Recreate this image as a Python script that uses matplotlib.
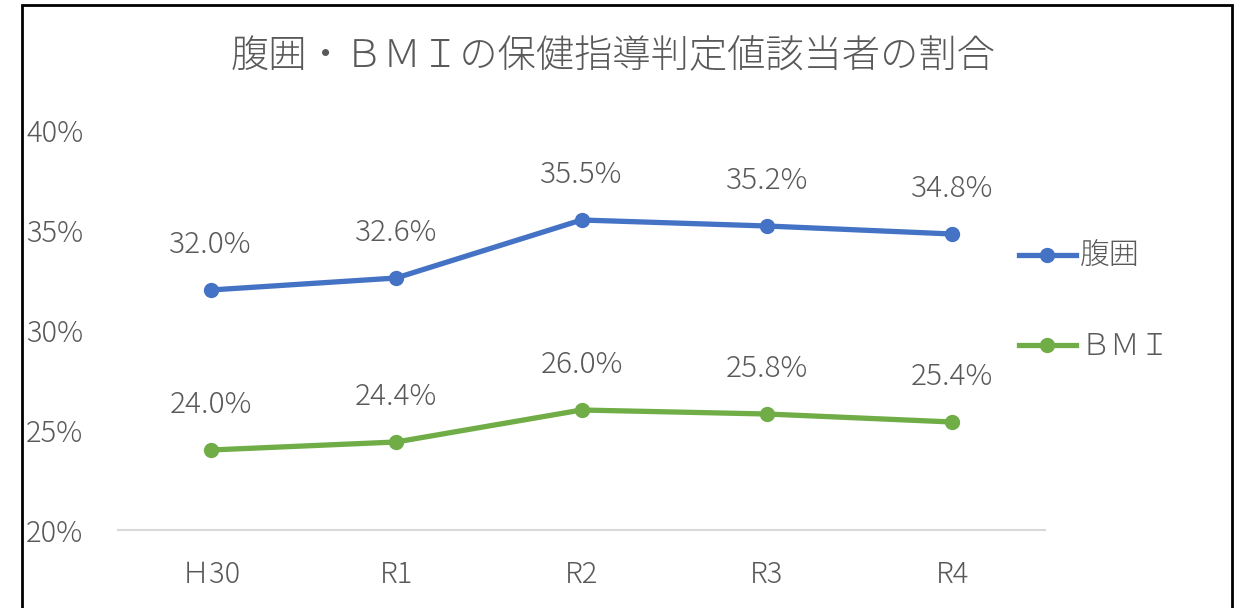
import matplotlib
matplotlib.use('Agg')
import matplotlib.pyplot as plt
from matplotlib.patches import Rectangle

plt.rcParams['font.family'] = ['Noto Sans CJK JP', 'DejaVu Sans']
plt.rcParams['font.weight'] = 'light'

years = ['Ｈ30', 'R1', 'R2', 'R3', 'R4']
waist = [32.0, 32.6, 35.5, 35.2, 34.8]
bmi = [24.0, 24.4, 26.0, 25.8, 25.4]
series_names = ['腹囲', 'ＢＭＩ']
title = '腹囲・ＢＭＩの保健指導判定値該当者の割合'

gray = '#595959'
blue = '#4472C4'
green = '#70AD47'

fig = plt.figure(figsize=(12.37, 6.08), dpi=100)
ax = fig.add_axes([118 / 1237, 78 / 608, 927 / 1237, 400 / 608])

x = list(range(len(years)))
l1, = ax.plot(x, waist, color=blue, lw=3.8, marker='o', ms=10, label=series_names[0])
l2, = ax.plot(x, bmi, color=green, lw=3.8, marker='o', ms=10, label=series_names[1])

# データラベル
for vals in [waist, bmi]:
    for xi, v in zip(x, vals):
        ax.annotate(f'{v:.1f}%', (xi, v), xytext=(0, 32.5), textcoords='offset points',
                    ha='center', va='center', fontsize=21.5, color=gray)

ax.set_xlim(-0.5, len(years) - 0.5)
ax.set_ylim(20, 40)
ax.set_yticks([20, 25, 30, 35, 40])
ax.set_yticklabels([f'{t}%' for t in [20, 25, 30, 35, 40]])
ax.set_xticks(x)
ax.set_xticklabels(years)
ax.tick_params(axis='y', length=0, pad=66, labelsize=21, labelcolor=gray)
ax.tick_params(axis='x', length=0, pad=21, labelsize=21, labelcolor=gray)
for lab in ax.get_yticklabels():
    lab.set_horizontalalignment('left')

for s in ['top', 'right', 'left']:
    ax.spines[s].set_visible(False)
ax.spines['bottom'].set_color('#D9D9D9')
ax.spines['bottom'].set_linewidth(1.5)

fig.text(0.4955, 1 - 55 / 608, title, ha='center', va='center', fontsize=27.5, color=gray)

fig.legend(handles=[l1, l2], loc='center left', bbox_to_anchor=(992 / 1237, 1 - 302 / 608),
           frameon=False, fontsize=21.5, labelcolor=gray, handlelength=1.9,
           labelspacing=2.0, handletextpad=0.15)

# 外枠
fig.patches.append(Rectangle((22 / 1237, -0.1), (1232 - 22) / 1237, 1.1 - 5 / 608,
                             transform=fig.transFigure, fill=False, ec='black', lw=2))

fig.savefig('out.png', dpi=100, facecolor='white')
